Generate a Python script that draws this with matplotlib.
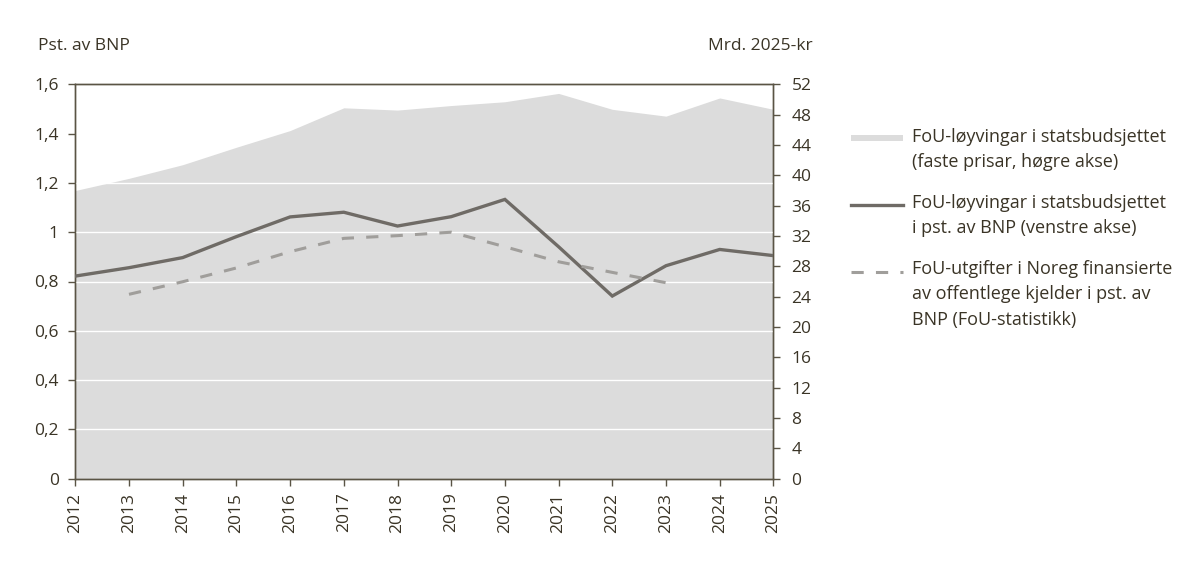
import matplotlib
matplotlib.use("Agg")
import matplotlib.pyplot as plt
from matplotlib.lines import Line2D
from matplotlib.patches import Rectangle

plt.rcParams['font.family'] = ['Open Sans', 'DejaVu Sans']

years = list(range(2012, 2026))
# FoU-løyvingar i statsbudsjettet, mrd. 2025-kr (right axis)
budget_bn = [38.0, 39.6, 41.4, 43.7, 45.9, 48.9, 48.6, 49.2, 49.7, 50.8, 48.7, 47.8, 50.2, 48.7]
# FoU-løyvingar i pst. av BNP (left axis)
budget_pct = [0.822, 0.856, 0.897, 0.982, 1.062, 1.081, 1.025, 1.063, 1.133, 0.941, 0.741, 0.864, 0.930, 0.905]
# FoU-utgifter finansierte av offentlege kjelder, pst. av BNP
stat_years = list(range(2013, 2024))
stat_pct = [0.748, 0.799, 0.855, 0.921, 0.975, 0.986, 1.0, 0.941, 0.880, 0.837, 0.795]

left_ticks = [0, 0.2, 0.4, 0.6, 0.8, 1.0, 1.2, 1.4, 1.6]
left_labels = ["0", "0,2", "0,4", "0,6", "0,8", "1", "1,2", "1,4", "1,6"]
right_ticks = list(range(0, 53, 4))
grid_levels = [0.2, 0.4, 0.6, 0.8, 1.0, 1.2]

legend_labels = [
    "FoU-løyvingar i statsbudsjettet\n(faste prisar, høgre akse)",
    "FoU-løyvingar i statsbudsjettet\ni pst. av BNP (venstre akse)",
    "FoU-utgifter i Noreg finansierte\nav offentlege kjelder i pst. av\nBNP (FoU-statistikk)",
]

TXT = "#3a3426"
AX = "#5a5445"
AREA = "#dcdcdc"
SOLID = "#6f6b66"
DASH = "#a09e9b"

W, H = 1198, 568
fig = plt.figure(figsize=(W / 100, H / 100), dpi=100)
ax = fig.add_axes([75.3 / W, 1 - 478.7 / H, (773.4 - 75.3) / W, (478.7 - 84.3) / H])
ax2 = ax.twinx()

# area on right axis, drawn beneath
ax2.set_zorder(0)
ax.set_zorder(1)
ax.patch.set_visible(False)
ax2.fill_between(years, budget_bn, 0, color=AREA, lw=0)
ax2.set_ylim(0, 52)
ax2.set_yticks(right_ticks)

ax.set_ylim(0, 1.6)
ax.set_xlim(2012, 2025)
for g in grid_levels:
    ax.axhline(g, color="white", lw=1.0, zorder=1)
ax.plot(years, budget_pct, color=SOLID, lw=2.4, zorder=3, solid_joinstyle="miter")
ax.plot(stat_years, stat_pct, color=DASH, lw=2.2, dashes=(4, 4), zorder=3)

ax.set_yticks(left_ticks)
ax.set_yticklabels(left_labels)
ax.set_xticks(years)
ax.set_xticklabels([str(y) for y in years], rotation=90)

for a in (ax, ax2):
    for s in a.spines.values():
        s.set_color(AX)
        s.set_linewidth(1.0)
ax.tick_params(axis='y', length=5, width=1, color=AX, pad=7, labelsize=12.5, labelcolor=TXT)
ax.tick_params(axis='x', length=5, width=1, color=AX, pad=5, labelsize=12.5, labelcolor=TXT)
ax2.tick_params(axis='y', length=5, width=1, color=AX, pad=8, labelsize=12.5, labelcolor=TXT)

fig.text(38 / W, 1 - 46 / H, "Pst. av BNP", ha="left", va="center", fontsize=12.5, color=TXT)
fig.text(708 / W, 1 - 46 / H, "Mrd. 2025-kr", ha="left", va="center", fontsize=12.5, color=TXT)

# legend (manual)
tr = fig.transFigure
def fx(x): return x / W
def fy(y): return 1 - y / H
fig.add_artist(Rectangle((fx(850.7), fy(141)), (902.7 - 850.7) / W, 6 / H, transform=tr,
                         facecolor=AREA, edgecolor="none"))
fig.add_artist(Line2D([fx(850.7), fx(902.7)], [fy(205), fy(205)], transform=tr, color=SOLID, lw=2.4))
fig.add_artist(Line2D([fx(850.7), fx(902.7)], [fy(271.5), fy(271.5)], transform=tr, color=DASH, lw=2.2,
                      dashes=(4, 4)))
tops = [128, 194, 260]
for lab, t in zip(legend_labels, tops):
    fig.text(fx(911.7), fy(t), lab, ha="left", va="top", fontsize=13, color=TXT, linespacing=1.52)

fig.savefig("out.png", dpi=100)
